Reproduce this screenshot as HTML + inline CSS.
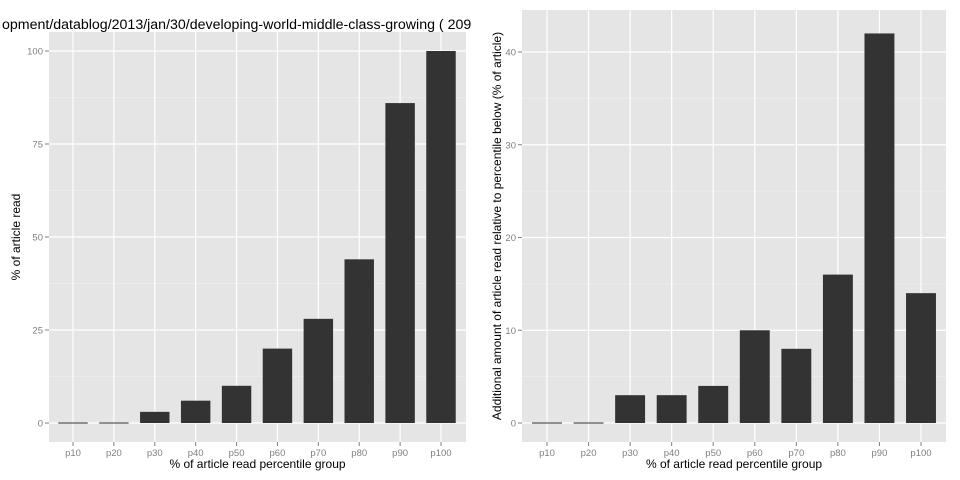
<!DOCTYPE html>
<html><head><meta charset="utf-8"><style>
body{margin:0;background:#fff;}
svg{display:block;font-family:"Liberation Sans",sans-serif;}
</style></head><body>
<svg id="chart" width="960" height="480">
<text x="2" y="29" font-size="14.2" fill="#000">opment/datablog/2013/jan/30/developing-world-middle-class-growing ( 2091</text>
<rect x="472" y="0" width="488" height="480" fill="#fff"/>
</svg>
<script>
const categories=["p10","p20","p30","p40","p50","p60","p70","p80","p90","p100"];
const leftValues=[0,0,3,6,10,20,28,44,86,100];
const rightValues=[0,0,3,3,4,10,8,16,42,14];
const leftTicks=[0,25,50,75,100];
const rightTicks=[0,10,20,30,40];
const NS="http://www.w3.org/2000/svg";
const svg=document.getElementById('chart');
function mk(t,a,p){const e=document.createElementNS(NS,t);for(const k in a)e.setAttribute(k,a[k]);(p||svg).appendChild(e);return e;}
function panel(cfg){
  const g=mk('g',{});
  
  
  const bg=mk('rect',{x:cfg.x0,y:cfg.y0,width:cfg.x1-cfg.x0,height:cfg.y1-cfg.y0,fill:'#e5e5e5'},g);
  
  
  const n=categories.length;
  const xs=i=>cfg.c0+i*(cfg.c1-cfg.c0)/(n-1);
  const step=(cfg.c1-cfg.c0)/(n-1);
  const ys=v=>cfg.zeroY-(v/cfg.refV)*(cfg.zeroY-cfg.refY);
  for(let k=0;k<cfg.ticks.length-1;k++){const m=(cfg.ticks[k]+cfg.ticks[k+1])/2;mk('line',{x1:cfg.x0,x2:cfg.x1,y1:ys(m),y2:ys(m),stroke:'#f2f2f2','stroke-width':0.6},g);}
  {const last=cfg.ticks[cfg.ticks.length-1],d=cfg.ticks[1]-cfg.ticks[0];const m=last+d/2;if(ys(m)>cfg.y0)mk('line',{x1:cfg.x0,x2:cfg.x1,y1:ys(m),y2:ys(m),stroke:'#f2f2f2','stroke-width':0.6},g);}
  cfg.ticks.forEach(t=>{
    mk('line',{x1:cfg.x0,x2:cfg.x1,y1:ys(t),y2:ys(t),stroke:'#fff','stroke-width':1.2},g);
    mk('line',{x1:cfg.x0-4,x2:cfg.x0,y1:ys(t),y2:ys(t),stroke:'#7f7f7f','stroke-width':1},g);
    const tl=mk('text',{x:cfg.x0-6,y:ys(t)+3.5,'font-size':9.5,fill:'#7f7f7f','text-anchor':'end'},g);
    tl.textContent=t;
    
    
  });
  categories.forEach((c,i)=>{
    mk('line',{x1:xs(i),x2:xs(i),y1:cfg.y0,y2:cfg.y1,stroke:'#fff','stroke-width':1.2},g);
    mk('line',{x1:xs(i),x2:xs(i),y1:cfg.y1,y2:cfg.y1+4,stroke:'#7f7f7f','stroke-width':1},g);
    const tl=mk('text',{x:xs(i),y:cfg.y1+14,'font-size':9.5,fill:'#7f7f7f','text-anchor':'middle'},g);
    tl.textContent=c;
    
    
  });
  const bw=step*0.72;
  cfg.values.forEach((v,i)=>{
    const h=Math.max(1,cfg.zeroY-ys(v));
    const b=mk('rect',{x:xs(i)-bw/2,y:cfg.zeroY-h+(v===0?0.5:0),width:bw,height:h,fill:'#333333'},g);
    
    
  });
  const xt=mk('text',{x:(cfg.x0+cfg.x1)/2,y:cfg.y1+26,'font-size':12,fill:'#000','text-anchor':'middle'},g);
  xt.textContent='% of article read percentile group';
  
  
  const yt=mk('text',{x:0,y:0,'font-size':12,fill:'#000','text-anchor':'middle',transform:`translate(${cfg.yTitleX},${cfg.yTitleY}) rotate(-90)`},g);
  yt.textContent=cfg.yTitle;
  
  
}
panel({name:'left-panel',x0:49,x1:466,y0:32,y1:442,c0:73,c1:441,zeroY:423,refY:51,refV:100,values:leftValues,ticks:leftTicks,yTitle:'% of article read',yTitleX:20,yTitleY:237});
panel({name:'right-panel',x0:522,x1:946,y0:10,y1:442,c0:547,c1:921,zeroY:423,refY:52,refV:40,values:rightValues,ticks:rightTicks,yTitle:'Additional amount of article read relative to percentile below (% of article)',yTitleX:501,yTitleY:226});
</script>
</body></html>
